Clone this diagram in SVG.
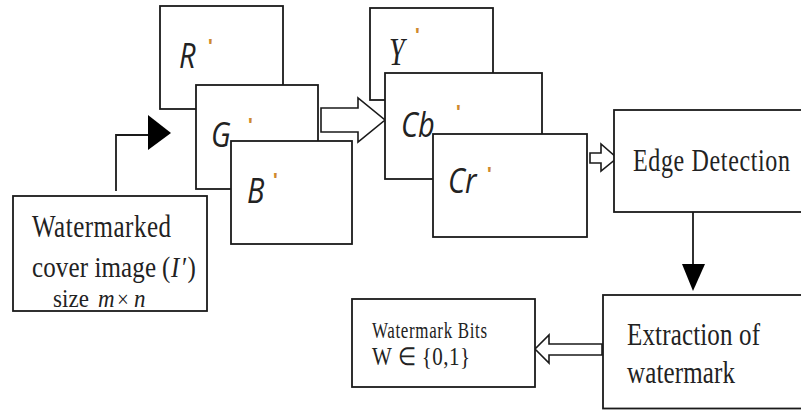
<svg xmlns="http://www.w3.org/2000/svg" width="801" height="410" viewBox="0 0 801 410">
<style>
.box{fill:#fff;stroke:#1a1a1a;stroke-width:1.8}
.ln{fill:none;stroke:#1a1a1a;stroke-width:1.8}
.hollow{fill:#fff;stroke:#1a1a1a;stroke-width:1.6;stroke-linejoin:miter}
.solid{fill:#000;stroke:none}
.serif{font-family:"Liberation Serif","Times New Roman",serif;fill:#222}
.it{font-style:italic}
.lab{font-family:"Open Sans","DejaVu Sans",sans-serif;font-style:italic;font-size:29px;fill:#222}
.prime{font-family:"Liberation Sans",Arial,sans-serif;font-size:20px;font-weight:bold;fill:#cf8a2e}
</style>
<rect width="801" height="410" fill="#fff"/>

<g id="connectors">
  <path class="ln" d="M116,191 V135 H149"/>
  <polygon class="solid" points="148,115 171,133 148,150"/>
  <polygon class="hollow" points="321,108 358,108 358,98 385,120 358,142 358,132 321,132"/>
  <polygon class="hollow" points="590,153 601,153 601,144 617,158 601,171 601,163 590,163"/>
  <line class="ln" x1="693" y1="212" x2="693" y2="266"/>
  <polygon class="solid" points="682,264 705,264 693,291"/>
  <polygon class="hollow" points="602,344 549,344 549,335 535,349 549,363 549,355 602,355"/>
</g>

<g id="node-cover">
  <rect class="box" x="13" y="196" width="194" height="115"/>
  <text class="serif" font-size="25" textLength="139" transform="translate(32,237) scale(1,1.3)">Watermarked</text>
  <text class="serif" font-size="25" textLength="124" transform="translate(32,277) scale(1,1.15)">cover image</text>
  <text class="serif" font-size="25" transform="translate(162,277) scale(1,1.15)">(</text>
  <text class="serif it" font-size="25" transform="translate(171,277) scale(1,1.15)">I</text>
  <text class="serif" font-size="25" transform="translate(182,277) scale(1,1.15)">′)</text>
  <text class="serif" font-size="23" textLength="36" transform="translate(53,307) scale(1,1.1)">size</text>
  <text class="serif it" font-size="23" textLength="17" transform="translate(98,307) scale(1,1.1)">m</text>
  <text class="serif" font-size="21" transform="translate(117,307) scale(1,1.1)">×</text>
  <text class="serif it" font-size="23" textLength="14" transform="translate(134,307) scale(1,1.1)">n</text>
</g>

<g id="node-R">
  <rect class="box" x="160" y="6" width="123" height="103"/>
  <text class="lab" transform="translate(179,68) scale(1,1.2)">R</text>
  <text class="prime" x="208" y="53">'</text>
</g>
<g id="node-G">
  <rect class="box" x="196" y="85" width="122" height="104"/>
  <text class="lab" transform="translate(211,147) scale(1,1.2)">G</text>
  <text class="prime" x="248" y="132">'</text>
</g>
<g id="node-B">
  <rect class="box" x="231" y="141" width="121" height="103"/>
  <text class="lab" transform="translate(247,203) scale(1,1.2)">B</text>
  <text class="prime" x="273" y="187">'</text>
</g>

<g id="node-Y">
  <rect class="box" x="370" y="8" width="123" height="92"/>
  <text class="serif it" font-size="28" transform="translate(389,65) scale(1,1.4)">Y</text>
  <text class="prime" x="415" y="42">'</text>
</g>
<g id="node-Cb">
  <rect class="box" x="385" y="73" width="157" height="106"/>
  <text class="lab" transform="translate(401,137) scale(1,1.2)">Cb</text>
  <text class="prime" x="456" y="119">'</text>
</g>
<g id="node-Cr">
  <rect class="box" x="433" y="134" width="154" height="103"/>
  <text class="lab" transform="translate(448,193) scale(1,1.2)">Cr</text>
  <text class="prime" x="487" y="181">'</text>
</g>

<g id="node-edge">
  <rect class="box" x="614" y="110" width="200" height="102"/>
  <text class="serif" font-size="24" textLength="157" transform="translate(633,171) scale(1,1.35)">Edge Detection</text>
</g>

<g id="node-extraction">
  <rect class="box" x="603" y="295" width="210" height="113.5"/>
  <text class="serif" font-size="25" textLength="133" transform="translate(627,345) scale(1,1.25)">Extraction of</text>
  <text class="serif" font-size="25" textLength="108" transform="translate(627,383) scale(1,1.25)">watermark</text>
</g>

<g id="node-bits">
  <rect class="box" x="352" y="299" width="183" height="88"/>
  <text class="serif" font-size="17" textLength="115" transform="translate(372,338) scale(1,1.35)">Watermark Bits</text>
  <text class="serif" font-size="21" textLength="98" transform="translate(372,365) scale(1,1.2)">W ∈ {0,1}</text>
</g>
</svg>
